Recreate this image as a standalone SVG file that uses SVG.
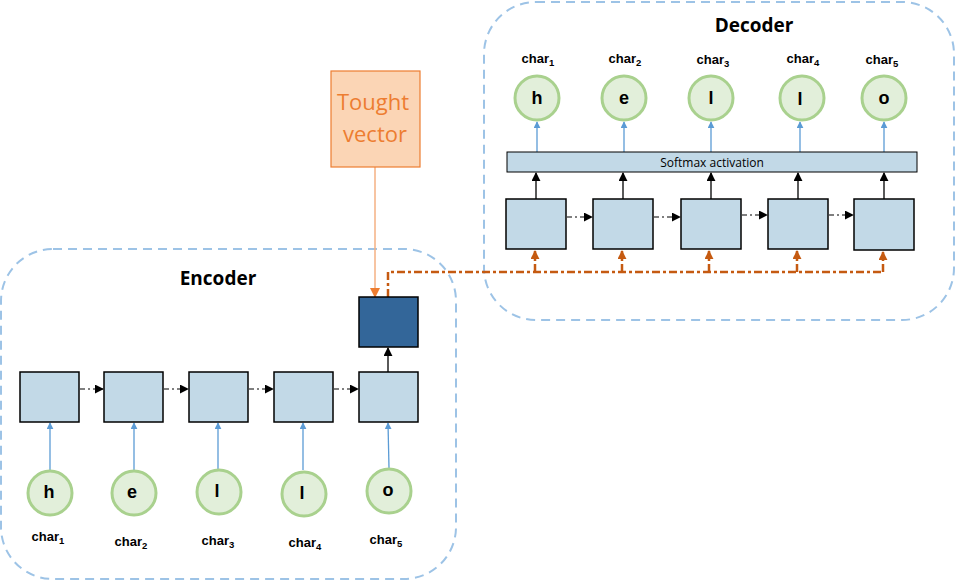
<svg xmlns="http://www.w3.org/2000/svg" width="956" height="581" viewBox="0 0 956 581">
<defs>
<style>
.cont{fill:none;stroke:#9dc3e6;stroke-width:2;stroke-dasharray:9,6}
.cell{fill:#c2d9e7;stroke:#000;stroke-width:1.5}
.circ{fill:#e2efda;stroke:#a9d18e;stroke-width:3}
.lt{font-family:"Liberation Sans",Arial,sans-serif;font-weight:bold;font-size:18px;fill:#000;text-anchor:middle}
.cl{font-family:"Liberation Sans",Arial,sans-serif;font-weight:bold;font-size:13px;fill:#000;text-anchor:middle}
.sub{font-size:9.5px}
.title{font-family:"Open Sans","Liberation Sans",sans-serif;font-weight:bold;font-size:19px;fill:#000;text-anchor:middle}
.blue{stroke:#5b9bd5;stroke-width:1.3;fill:none;marker-end:url(#ab)}
.blk{stroke:#000;stroke-width:1.3;fill:none;marker-end:url(#ak)}
.dd{stroke:#000;stroke-width:1.2;fill:none;stroke-dasharray:5,3,2,3;marker-end:url(#ak)}
.or{stroke:#c55a11;stroke-width:2.5;fill:none;stroke-dasharray:8,3,3,3}
.orb{stroke:#c55a11;stroke-width:2.5;fill:none;stroke-dasharray:8,3,3,3;marker-end:url(#ao)}
</style>
<marker id="ab" viewBox="0 0 10 10" refX="9" refY="5" markerWidth="7" markerHeight="7" markerUnits="userSpaceOnUse" orient="auto"><path d="M0,0L10,5L0,10z" fill="#5b9bd5"/></marker>
<marker id="ak" viewBox="0 0 10 10" refX="9" refY="5" markerWidth="9" markerHeight="9" markerUnits="userSpaceOnUse" orient="auto"><path d="M0,0L10,5L0,10z" fill="#000"/></marker>
<marker id="ao" viewBox="0 0 10 10" refX="9" refY="5" markerWidth="9" markerHeight="9" markerUnits="userSpaceOnUse" orient="auto"><path d="M0,0L10,5L0,10z" fill="#c55a11"/></marker>
<marker id="at" viewBox="0 0 10 10" refX="9" refY="5" markerWidth="10" markerHeight="10" markerUnits="userSpaceOnUse" orient="auto"><path d="M0,0L10,5L0,10z" fill="#ed7d31"/></marker>
</defs>
<rect width="956" height="581" fill="#fff"/>

<g id="decoder-container">
<rect class="cont" x="484" y="2" width="470" height="318" rx="52" ry="52"/>
<text class="title" x="754" y="32">Decoder</text>
</g>
<g id="encoder-container">
<rect class="cont" x="1" y="249" width="455" height="330" rx="52" ry="52"/>
<text class="title" x="218" y="285">Encoder</text>
</g>

<g id="connectors">
<line class="blue" x1="537" y1="152" x2="537" y2="122"/>
<line class="blue" x1="624" y1="152" x2="624" y2="122"/>
<line class="blue" x1="711" y1="152" x2="711" y2="122"/>
<line class="blue" x1="800" y1="152" x2="800" y2="122"/>
<line class="blue" x1="884" y1="152" x2="884" y2="122"/>
<line class="blk" x1="536" y1="199" x2="536" y2="173"/>
<line class="blk" x1="623" y1="199" x2="623" y2="173"/>
<line class="blk" x1="711" y1="199" x2="711" y2="173"/>
<line class="blk" x1="798" y1="199" x2="798" y2="173"/>
<line class="blk" x1="884" y1="199" x2="884" y2="173"/>
<line class="dd" x1="567" y1="217" x2="592" y2="217"/>
<line class="dd" x1="654" y1="217" x2="680" y2="217"/>
<line class="dd" x1="742" y1="215" x2="767" y2="215"/>
<line class="dd" x1="829" y1="215" x2="853" y2="215"/>
<path d="M 388 297 L 388 272 L 884 272" class="or"/>
<line class="orb" x1="535" y1="272" x2="535" y2="251"/>
<line class="orb" x1="622" y1="272" x2="622" y2="251"/>
<line class="orb" x1="709" y1="272" x2="709" y2="251"/>
<line class="orb" x1="797" y1="272" x2="797" y2="251"/>
<line class="orb" x1="883" y1="272" x2="883" y2="252"/>
<line x1="375" y1="167" x2="375" y2="297" stroke="#f4b183" stroke-width="1.5" marker-end="url(#at)"/>
<line class="blk" x1="388" y1="372" x2="388" y2="348"/>
<line class="dd" x1="80" y1="389" x2="103" y2="389"/>
<line class="dd" x1="164" y1="389" x2="188" y2="389"/>
<line class="dd" x1="249" y1="389" x2="273" y2="389"/>
<line class="dd" x1="334" y1="389" x2="358" y2="389"/>
<line class="blue" x1="50" y1="470" x2="50" y2="423"/>
<line class="blue" x1="134" y1="470" x2="134" y2="423"/>
<line class="blue" x1="218" y1="470" x2="218" y2="423"/>
<line class="blue" x1="303" y1="470" x2="303" y2="423"/>
<line class="blue" x1="389" y1="468" x2="388" y2="423"/>
</g>

<g id="thought-vector">
<rect x="331" y="71" width="89" height="96" fill="#fbd5b5" stroke="#ed7d31" stroke-width="1.2"/>
<text x="373" y="110" font-family="'Open Sans','Liberation Sans',sans-serif" font-size="22" fill="#ed7d31" text-anchor="middle">Tought</text>
<text x="375" y="142" font-family="'Open Sans','Liberation Sans',sans-serif" font-size="22" fill="#ed7d31" text-anchor="middle">vector</text>
</g>

<g id="softmax">
<rect x="507" y="152" width="410" height="20" fill="#c2d9e7" stroke="#000" stroke-width="1"/>
<text x="712" y="166.5" font-family="'Open Sans','Liberation Sans',sans-serif" font-size="12" fill="#000" text-anchor="middle">Softmax activation</text>
</g>

<g id="dec-cell-1"><rect class="cell" x="506" y="199" width="60" height="50"/></g>
<g id="dec-cell-2"><rect class="cell" x="593" y="199" width="60" height="50"/></g>
<g id="dec-cell-3"><rect class="cell" x="681" y="199" width="60" height="50"/></g>
<g id="dec-cell-4"><rect class="cell" x="768" y="199" width="60" height="50"/></g>
<g id="dec-cell-5"><rect class="cell" x="854" y="199" width="60" height="51"/></g>

<g id="dec-out-1"><circle class="circ" cx="537" cy="98" r="22"/><text class="lt" x="537" y="104">h</text><text class="cl" x="538" y="63">char<tspan class="sub" dy="3">1</tspan></text></g>
<g id="dec-out-2"><circle class="circ" cx="624" cy="98" r="22"/><text class="lt" x="624" y="104">e</text><text class="cl" x="625" y="63">char<tspan class="sub" dy="3">2</tspan></text></g>
<g id="dec-out-3"><circle class="circ" cx="711" cy="98" r="22"/><text class="lt" x="711" y="104">l</text><text class="cl" x="713" y="64">char<tspan class="sub" dy="3">3</tspan></text></g>
<g id="dec-out-4"><circle class="circ" cx="802" cy="98" r="22"/><text class="lt" x="800" y="105">l</text><text class="cl" x="803" y="63">char<tspan class="sub" dy="3">4</tspan></text></g>
<g id="dec-out-5"><circle class="circ" cx="884" cy="98" r="22"/><text class="lt" x="884" y="104">o</text><text class="cl" x="882" y="64">char<tspan class="sub" dy="3">5</tspan></text></g>

<g id="thought-state"><rect x="359" y="297" width="59" height="50" fill="#336699" stroke="#000" stroke-width="1.5"/></g>

<g id="enc-cell-1"><rect class="cell" x="20" y="372" width="59" height="50"/></g>
<g id="enc-cell-2"><rect class="cell" x="104" y="372" width="59" height="50"/></g>
<g id="enc-cell-3"><rect class="cell" x="189" y="372" width="59" height="50"/></g>
<g id="enc-cell-4"><rect class="cell" x="274" y="372" width="59" height="50"/></g>
<g id="enc-cell-5"><rect class="cell" x="359" y="372" width="59" height="50"/></g>

<g id="enc-in-1"><circle class="circ" cx="50" cy="493" r="22"/><text class="lt" x="49" y="498">h</text><text class="cl" x="48" y="541">char<tspan class="sub" dy="3">1</tspan></text></g>
<g id="enc-in-2"><circle class="circ" cx="134" cy="493" r="22"/><text class="lt" x="132" y="498">e</text><text class="cl" x="131" y="546">char<tspan class="sub" dy="3">2</tspan></text></g>
<g id="enc-in-3"><circle class="circ" cx="219" cy="492" r="22"/><text class="lt" x="217" y="497">l</text><text class="cl" x="218" y="545">char<tspan class="sub" dy="3">3</tspan></text></g>
<g id="enc-in-4"><circle class="circ" cx="304" cy="494" r="22"/><text class="lt" x="302" y="499">l</text><text class="cl" x="305" y="547">char<tspan class="sub" dy="3">4</tspan></text></g>
<g id="enc-in-5"><circle class="circ" cx="389" cy="491" r="22"/><text class="lt" x="388" y="496">o</text><text class="cl" x="386" y="544">char<tspan class="sub" dy="3">5</tspan></text></g>
</svg>
